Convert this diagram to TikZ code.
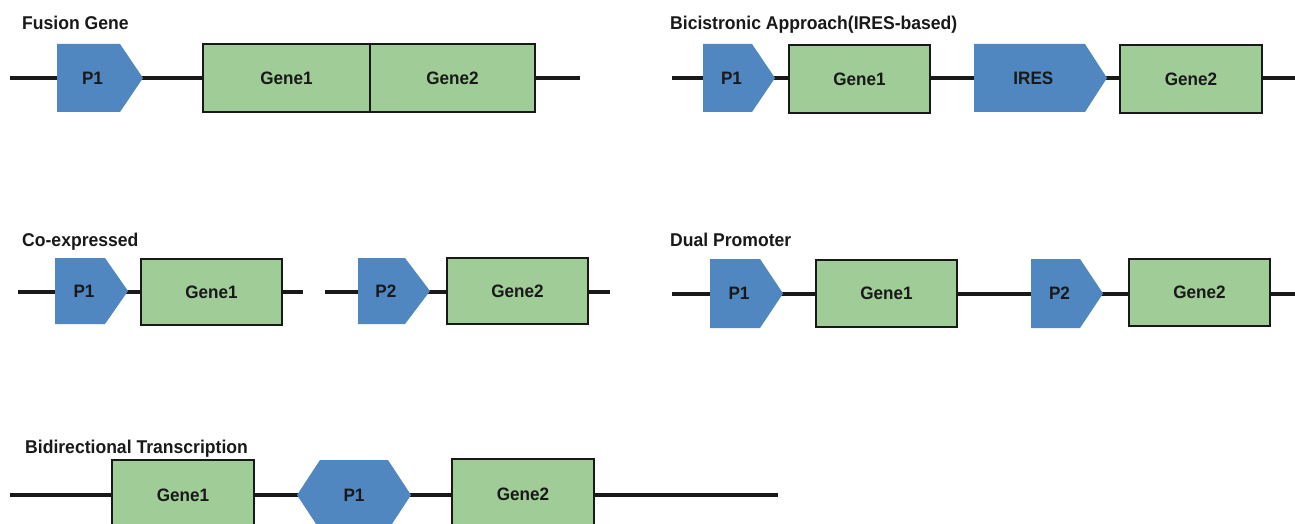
\documentclass[tikz,border=0pt]{standalone}
\usepackage{fontspec}
\setmainfont{Liberation Sans}
\newfontfamily\condfont[FakeStretch=0.95]{Liberation Sans}
\definecolor{promblue}{RGB}{80,135,193}
\definecolor{genegreen}{RGB}{160,204,151}
\definecolor{ink}{RGB}{25,25,25}
\tikzset{
  backbone/.style={line width=4pt, draw=ink},
  genebox/.style={draw=ink, line width=1.8pt, fill=genegreen, inner sep=0pt,
    font=\condfont\bfseries\fontsize{18}{18}\selectfont, text=ink},
  lab/.style={font=\condfont\bfseries\fontsize{18}{18}\selectfont, text=ink, inner sep=0pt},
  title/.style={font=\condfont\bfseries\fontsize{18.5}{18.5}\selectfont, text=ink, anchor=base west, inner sep=0pt},
}
\newcommand{\genebx}[6]{%
  \node[genebox, minimum width={(#4-#2)*1pt}, minimum height={(#5-#3)*1pt}]
    (#1) at ({(#2+#4)/2},{(#3+#5)/2}) {#6};}
\newcommand{\promo}[7]{%
  \fill[promblue] (#2,#5) -- (#3,#5) -- (#4,{(#5+#6)/2}) -- (#3,#6) -- (#2,#6) -- cycle;
  \node[lab] (#1) at ({0.325*(#2+#3)+0.175*(#2+#4)},{(#5+#6)/2}) {#7};}
\begin{document}
\begin{tikzpicture}[x=1pt,y=-1pt]
\useasboundingbox (0,0) rectangle (1295,524);
\clip (0,0) rectangle (1295,524);
\fill[white] (0,0) rectangle (1295,524);

% ---------- Fusion Gene ----------
\node[title] (t1) at (22,30) {Fusion Gene};
\coordinate (f0) at (10,78);
\coordinate (f9) at (580,78);
\draw[backbone] (f0) -- (f9);
\promo{fp1}{57}{120}{143}{44}{112}{P1}
\genebx{fg1}{203}{44}{370}{112}{Gene1}
\genebx{fg2}{370}{44}{535}{112}{Gene2}

% ---------- Bicistronic ----------
\node[title] (t2) at (670,30) {Bicistronic Approach(IRES-based)};
\coordinate (b0) at (672,78);
\coordinate (b9) at (1295,78);
\draw[backbone] (b0) -- (b9);
\promo{bp1}{703}{752}{775}{44}{112}{P1}
\genebx{bg1}{789}{45}{930}{113}{Gene1}
\promo{bires}{974}{1085}{1107}{44}{112}{IRES}
\genebx{bg2}{1120}{45}{1262}{113}{Gene2}

% ---------- Co-expressed ----------
\node[title] (t3) at (22,246) {Co-expressed};
\coordinate (c0) at (18,292);
\coordinate (c1) at (303,292);
\coordinate (c2) at (325,292);
\coordinate (c3) at (610,292);
\draw[backbone] (c0) -- (c1);
\draw[backbone] (c2) -- (c3);
\promo{cp1}{55}{105}{128}{258}{324}{P1}
\genebx{cg1}{141}{259}{282}{325}{Gene1}
\promo{cp2}{358}{405}{430}{258}{324}{P2}
\genebx{cg2}{447}{258}{588}{324}{Gene2}

% ---------- Dual Promoter ----------
\node[title] (t4) at (670,246) {Dual Promoter};
\coordinate (d0) at (672,294);
\coordinate (d9) at (1295,294);
\draw[backbone] (d0) -- (d9);
\promo{dp1}{710}{760}{783}{259}{328}{P1}
\genebx{dg1}{816}{260}{957}{327}{Gene1}
\promo{dp2}{1031}{1080}{1103}{259}{328}{P2}
\genebx{dg2}{1129}{259}{1270}{326}{Gene2}

% ---------- Bidirectional ----------
\node[title] (t5) at (25,453) {Bidirectional Transcription};
\coordinate (r0) at (10,495);
\coordinate (r9) at (778,495);
\draw[backbone] (r0) -- (r9);
\genebx{rg1}{112}{460}{254}{530}{Gene1}
\fill[promblue] (297,495) -- (320,460) -- (388,460) -- (411,495) -- (388,530) -- (320,530) -- cycle;
\node[lab] (rp1) at (354,495) {P1};
\genebx{rg2}{452}{459}{594}{529}{Gene2}
\end{tikzpicture}
\end{document}
